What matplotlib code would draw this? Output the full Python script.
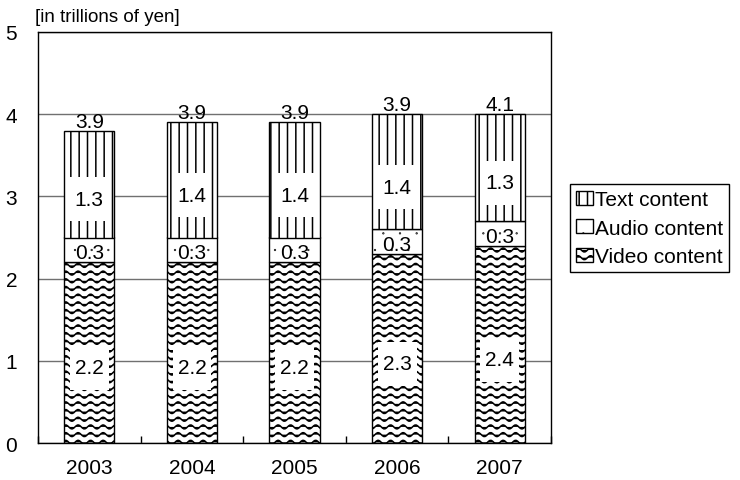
import warnings
import numpy as np
import matplotlib
matplotlib.use('Agg')
import matplotlib.pyplot as plt
import matplotlib.hatch as mhatch
from matplotlib.path import Path

warnings.filterwarnings('ignore')

years = ['2003', '2004', '2005', '2006', '2007']
video = [2.2, 2.2, 2.2, 2.3, 2.4]
audio = [0.3, 0.3, 0.3, 0.3, 0.3]
text = [1.3, 1.4, 1.4, 1.4, 1.3]
totals = ['3.9', '3.9', '3.9', '3.9', '4.1']
series_names = ['Text content', 'Audio content', 'Video content']


# wavy hatch, rows of sine waves, selected with '~'
class WaveHatch(mhatch.HatchPatternBase):
    def __init__(self, hatch, density):
        n = hatch.count('~') * density
        self.num_lines = int(round(n * 1.1))
        self.waves = int(round(n * 2 / 3))
        self.pts = self.waves * 10 + 1
        self.num_vertices = self.num_lines * self.pts

    def set_vertices_and_codes(self, vertices, codes):
        xs = np.linspace(0.0, 1.0, self.pts)
        for i in range(self.num_lines):
            y0 = (i + 0.5) / self.num_lines
            sl = slice(i * self.pts, (i + 1) * self.pts)
            vertices[sl, 0] = xs
            vertices[sl, 1] = y0 + 0.02 * np.sin(2 * np.pi * self.waves * xs)
            codes[sl] = Path.LINETO
            codes[i * self.pts] = Path.MOVETO


# sparse tiny dots, selected with ':'
class TinyDots(mhatch.Circles):
    size = 0.02
    filled = True

    def __init__(self, hatch, density):
        self.num_rows = hatch.count(':') * density
        super().__init__(hatch, density)


mhatch._hatch_types.extend([WaveHatch, TinyDots])


def tall_box(x0, y0, width, height, mutation_size):
    px = 0.24 * mutation_size
    py = 0.6 * mutation_size
    return Path([(x0 - px, y0 - py), (x0 + width + px, y0 - py),
                 (x0 + width + px, y0 + height + py), (x0 - px, y0 + height + py),
                 (x0 - px, y0 - py)], closed=True)


plt.rcParams['font.family'] = ['Liberation Sans', 'DejaVu Sans']
plt.rcParams['hatch.linewidth'] = 1.1

fig = plt.figure(figsize=(7.4, 4.81), dpi=100)
ax = fig.add_axes([38 / 740, 1 - 444 / 481, 513 / 740, 411 / 481])

x = np.arange(len(years))
w = 0.49
vid = np.array(video)
aud = np.array(audio)
txt = np.array(text)

b1 = ax.bar(x, vid, w, color='white', edgecolor='black', lw=1.0, hatch='~~', zorder=2)
b2 = ax.bar(x, aud, w, bottom=vid, color='white', edgecolor='black', lw=1.0, hatch=':', zorder=2)
b3 = ax.bar(x, txt, w, bottom=vid + aud, color='white', edgecolor='black', lw=1.0, hatch='||', zorder=2)

fs = 15
box = dict(boxstyle=tall_box, fc='white', ec='none')
for i in range(len(years)):
    ax.annotate(f'{video[i]:.1f}', (x[i], vid[i] / 2), xytext=(0, -11), textcoords='offset points',
                ha='center', va='center', fontsize=fs, bbox=box, zorder=3)
    ax.annotate(f'{audio[i]:.1f}', (x[i], vid[i] + aud[i] / 2), xytext=(0, -2), textcoords='offset points',
                ha='center', va='center', fontsize=fs, zorder=3)
    ax.annotate(f'{text[i]:.1f}', (x[i], vid[i] + aud[i] + txt[i] / 2), xytext=(0, -11),
                textcoords='offset points', ha='center', va='center', fontsize=fs, bbox=box, zorder=3)
    ax.annotate(totals[i], (x[i], vid[i] + aud[i] + txt[i]), xytext=(0, 0), textcoords='offset points',
                ha='center', va='bottom', fontsize=fs, zorder=3)

ax.set_xlim(-0.5, len(years) - 0.5)
ax.set_ylim(0, 5)
ax.set_yticks(range(6))
ax.set_xticks(x)
ax.set_xticklabels(years)
ax.set_xticks(np.arange(len(years) + 1) - 0.5, minor=True)
ax.tick_params(axis='x', which='major', length=0, labelsize=fs, pad=11)
ax.tick_params(axis='x', which='minor', length=5, direction='in', width=1)
ax.tick_params(axis='y', length=0, labelsize=fs, pad=15)
ax.yaxis.grid(True, color='#707070', lw=1.0, zorder=0)
ax.set_axisbelow(True)
for s in ax.spines.values():
    s.set_linewidth(1.0)

fig.text(35 / 740, 1 - 18 / 481, '[in trillions of yen]', fontsize=13.5, va='center', ha='left')

fig.legend([b3, b2, b1], series_names, loc='upper left', bbox_to_anchor=(570 / 740, 1 - 185 / 481),
           fontsize=fs, frameon=True, fancybox=False, edgecolor='black', framealpha=1,
           handlelength=0.8, handleheight=0.65, handletextpad=0.1, borderpad=0.3,
           labelspacing=0.45, borderaxespad=0)

fig.savefig('out.png', dpi=100)
